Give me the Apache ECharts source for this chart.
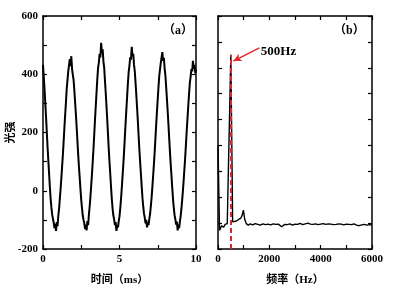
<!DOCTYPE html>
<html><head><meta charset="utf-8">
<script src="https://cdn.jsdelivr.net/npm/echarts/dist/echarts.min.js"></script>
<style>html,body{margin:0;padding:0;background:#fff}#c{width:401px;height:300px}</style>
</head><body><div id="c"></div>
<script>
// Panel (a): light intensity vs time, sampled every 0.05 ms from 0 to 10 ms
const sampleStepMs = 0.05;
const intensity = [
 432, 392, 348, 300, 252, 200, 148, 102, 57, 12,
 -28, -58, -82, -96, -110, -128, -114, -138, -108, -122,
 -86, -62, -28, 6, 44, 84, 124, 170, 218, 262,
 304, 350, 380, 410, 412, 452, 428, 462, 418, 398,
 380, 344, 302, 262, 218, 170, 124, 82, 44, 4,
 -32, -60, -86, -100, -112, -132, -116, -136, -104, -118,
 -82, -54, -20, 18, 57, 100, 144, 195, 245, 292,
 338, 384, 422, 440, 470, 458, 508, 472, 486, 444,
 422, 378, 336, 290, 243, 192, 141, 96, 54, 10,
 -30, -62, -86, -98, -118, -108, -138, -118, -126, -104,
 -88, -60, -28, 10, 50, 92, 135, 185, 234, 280,
 325, 370, 408, 430, 458, 450, 494, 462, 470, 432,
 410, 370, 328, 284, 238, 188, 140, 98, 57, 16,
 -24, -54, -78, -92, -112, -100, -126, -108, -118, -96,
 -79, -52, -22, 14, 52, 92, 134, 182, 229, 274,
 316, 358, 395, 418, 440, 434, 476, 446, 456, 420,
 396, 356, 315, 272, 227, 178, 131, 88, 49, 8,
 -30, -60, -84, -98, -116, -106, -136, -116, -128, -104,
 -86, -60, -30, 4, 41, 80, 120, 166, 212, 254,
 296, 336, 372, 392, 418, 410, 446, 420, 432, 404,
 416
];

// Panel (b): spectrum
const freqHz = [0, 60, 140, 220, 280, 360, 500, 570, 640, 720,
 800, 880, 940, 990, 1040, 1100, 1180, 1260, 1350, 1450,
 1550, 1650, 1750, 1850, 1950, 2050, 2150, 2250, 2350, 2480,
 2600, 2700, 2800, 2900, 3000, 3100, 3200, 3300, 3400, 3500,
 3600, 3700, 3800, 3900, 4000, 4100, 4200, 4300, 4400, 4500,
 4600, 4700, 4800, 4900, 5000, 5100, 5200, 5300, 5400, 5500,
 5600, 5700, 5800, 5900, 6000];
const amplitude = [4.0, 0.72, 0.9, 0.84, 0.95, 0.98, 7.5, 1.05, 1.1, 1.08,
 1.14, 1.18, 1.3, 1.5, 1.15, 0.98, 0.92, 0.97, 0.93, 0.98,
 0.95, 0.92, 0.97, 0.94, 0.96, 0.93, 0.97, 0.95, 0.96, 0.86,
 0.95, 0.94, 0.97, 0.92, 0.96, 0.95, 0.99, 0.94, 0.97, 1.0,
 0.96, 0.95, 0.97, 0.94, 0.96, 0.98, 0.95, 0.97, 0.96, 0.94,
 0.95, 0.97, 0.96, 0.93, 0.96, 0.95, 0.94, 0.97, 0.92, 0.9,
 0.93, 0.95, 0.92, 0.94, 0.93];

const peakFreqHz = 500;
const peakAmp = 7.5;
const peakLabel = '500Hz';
const arrowTail = [1610, 7.77];
const arrowHead = [600, 7.26];
const labelAnchor = [1670, 7.64];

const panelATag = '（a）';
const panelBTag = '（b）';
const xNameA = '时间（ms）';
const xNameB = '频率（Hz）';
const yNameA = '光强';

const numFont = 'Liberation Serif';
const cjkFont = 'Noto Sans CJK SC';

function axisCommon(extra) {
  return Object.assign({
    type: 'value',
    axisLine: { show: true, onZero: false, lineStyle: { color: '#000', width: 1.5 } },
    axisTick: { show: true, inside: true, length: 4, lineStyle: { color: '#000', width: 1.2 } },
    splitLine: { show: false },
    axisLabel: { show: true, color: '#000', fontFamily: numFont, fontWeight: 'bold', fontSize: 11, margin: 5 }
  }, extra);
}
const noLabel = { show: false };
const nameStyle = {
  color: '#000', fontSize: 11, fontFamily: numFont + ',' + cjkFont, fontWeight: 'bold'
};
function labelWith(fmt) {
  return { show: true, color: '#000', fontFamily: numFont, fontWeight: 'bold', fontSize: 11, margin: 5, formatter: fmt };
}

const chart = echarts.init(document.getElementById('c'), null, { renderer: 'canvas' });
chart.setOption({
  animation: false,
  backgroundColor: '#fff',
  grid: [
    { left: 43, top: 16, width: 153, height: 233 },
    { left: 218, top: 16, width: 154, height: 233 }
  ],
  xAxis: [
    axisCommon({ gridIndex: 0, position: 'bottom', min: 0, max: 10, interval: 2.5,
      name: xNameA, nameLocation: 'middle', nameGap: 26, nameTextStyle: nameStyle, nameMoveOverlap: false,
      axisLabel: labelWith(v => (v % 5 === 0 ? String(v) : '')) }),
    axisCommon({ gridIndex: 0, position: 'top', min: 0, max: 10, interval: 2.5, axisLabel: noLabel }),
    axisCommon({ gridIndex: 1, position: 'bottom', min: 0, max: 6000, interval: 1000,
      name: xNameB, nameLocation: 'middle', nameGap: 26, nameTextStyle: nameStyle, nameMoveOverlap: false,
      axisLabel: labelWith(v => (v % 2000 === 0 ? String(v) : '')) }),
    axisCommon({ gridIndex: 1, position: 'top', min: 0, max: 6000, interval: 1000, axisLabel: noLabel })
  ],
  yAxis: [
    axisCommon({ gridIndex: 0, position: 'left', min: -200, max: 600, interval: 100,
      name: yNameA, nameLocation: 'middle', nameRotate: 90, nameGap: 26, nameTextStyle: nameStyle, nameMoveOverlap: false,
      axisLabel: labelWith(v => (v % 200 === 0 ? String(v) : '')) }),
    axisCommon({ gridIndex: 0, position: 'right', min: -200, max: 600, interval: 100, axisLabel: noLabel }),
    axisCommon({ gridIndex: 1, position: 'left', min: 0, max: 9, interval: 1, axisLabel: noLabel }),
    axisCommon({ gridIndex: 1, position: 'right', min: 0, max: 9, interval: 1, axisLabel: noLabel })
  ],
  series: [
    {
      type: 'line', xAxisIndex: 0, yAxisIndex: 0, showSymbol: false, symbol: 'none',
      lineStyle: { color: '#000', width: 2 }, z: 3,
      data: intensity.map((v, i) => [i * sampleStepMs, v])
    },
    {
      type: 'line', xAxisIndex: 2, yAxisIndex: 2, showSymbol: false, symbol: 'none',
      lineStyle: { color: '#000', width: 1.4 }, z: 3,
      data: freqHz.map((f, i) => [f, amplitude[i]]),
      markLine: {
        silent: true, symbol: ['none', 'none'], label: { show: false }, animation: false,
        data: [
          [ { coord: [peakFreqHz, 0], lineStyle: { color: '#d42a2a', width: 2, type: [5, 3] } },
            { coord: [peakFreqHz, peakAmp] } ],
          [ { coord: arrowTail, symbol: 'none', lineStyle: { color: '#e0262a', width: 1.5, type: 'solid' } },
            { coord: arrowHead, symbol: 'arrow', symbolSize: [6, 8] } ]
        ]
      },
      markPoint: {
        silent: true, symbol: 'circle', symbolSize: 0, animation: false,
        data: [ { coord: labelAnchor, value: peakLabel } ],
        label: { show: true, position: 'right', distance: 0, formatter: peakLabel,
          color: '#000', fontFamily: numFont, fontWeight: 'bold', fontSize: 13 }
      }
    }
  ],
  graphic: [
    { type: 'text', left: 163, top: 25, style: { text: panelATag, fill: '#000', font: 'bold 12px "Liberation Serif", "Noto Sans CJK SC"' } },
    { type: 'text', left: 334, top: 25, style: { text: panelBTag, fill: '#000', font: 'bold 12px "Liberation Serif", "Noto Sans CJK SC"' } }
  ]
});
</script>
</body></html>
